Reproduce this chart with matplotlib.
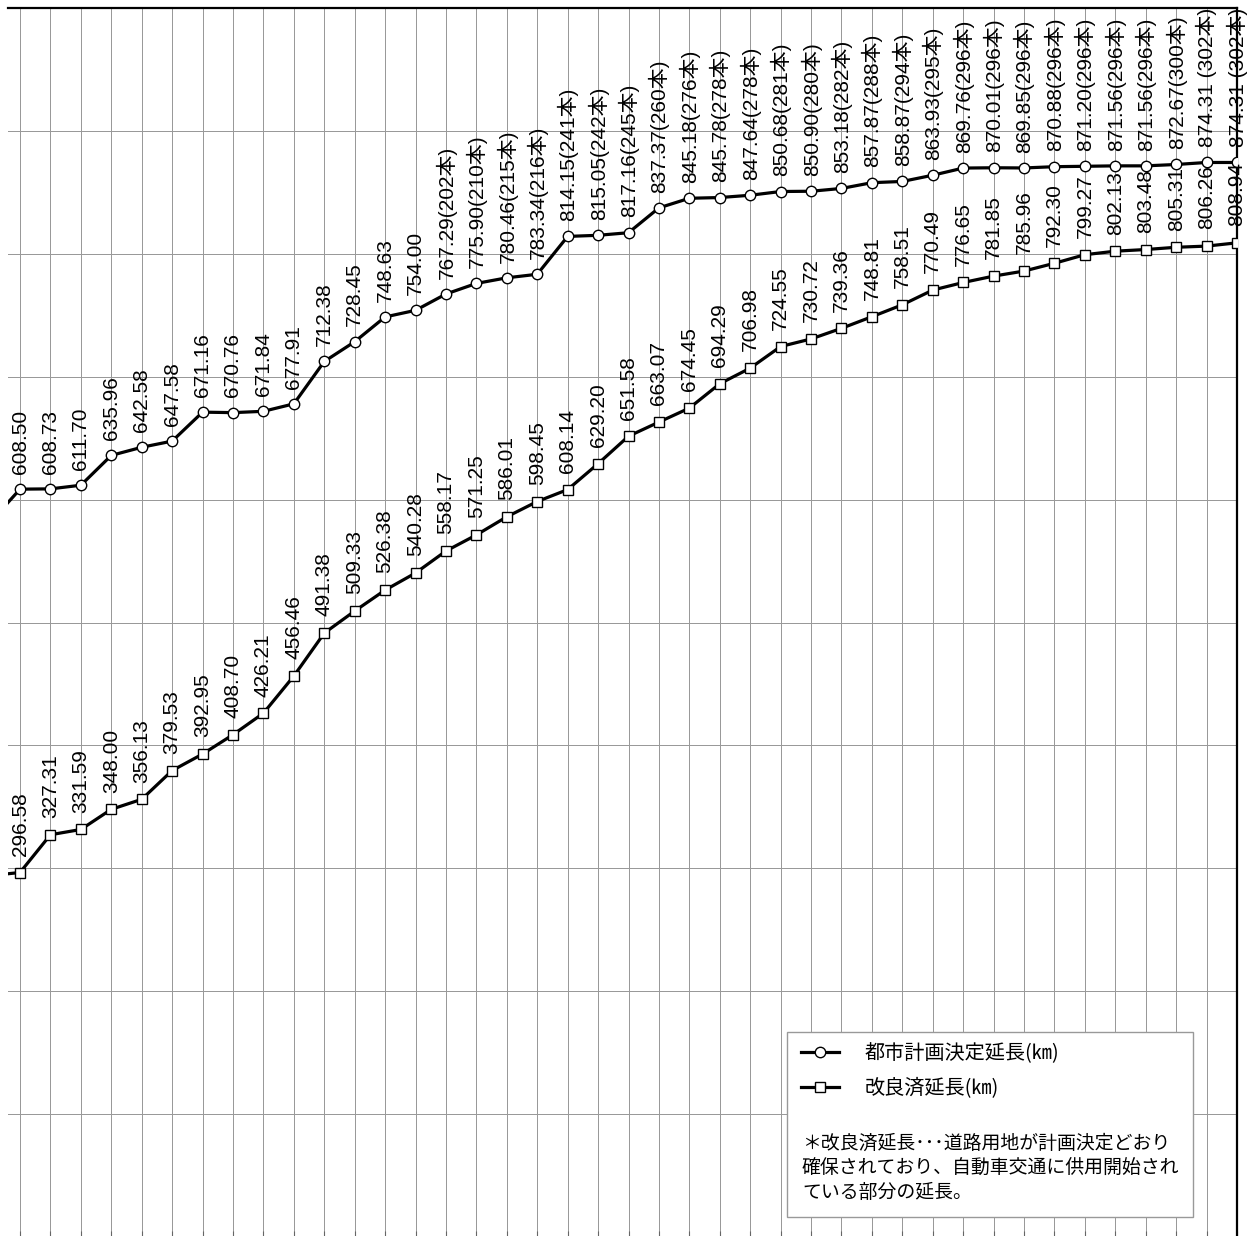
import numpy as np
import matplotlib.pyplot as plt
from matplotlib.patches import Rectangle
from matplotlib.lines import Line2D

plt.rcParams['font.family'] = ['Liberation Sans', 'Noto Sans CJK JP']

# x index of each point; index -1 is the previous point, just outside the left edge
pos = np.arange(-1, 41)

# 都市計画決定延長 (km)
plan_km = [581.0,
           608.50, 608.73, 611.70, 635.96, 642.58, 647.58, 671.16, 670.76,
           671.84, 677.91, 712.38, 728.45, 748.63, 754.00, 767.29, 775.90,
           780.46, 783.34, 814.15, 815.05, 817.16, 837.37, 845.18, 845.78,
           847.64, 850.68, 850.90, 853.18, 857.87, 858.87, 863.93, 869.76,
           870.01, 869.85, 870.88, 871.20, 871.56, 871.56, 872.67, 874.31,
           874.31]
# number of routes (本), known from the 15th point on
plan_count = [None] * 15 + [202, 210, 215, 216, 241, 242, 245, 260, 276, 278,
                            278, 281, 280, 282, 288, 294, 295, 296, 296, 296,
                            296, 296, 296, 296, 300, 302, 302]

# 改良済延長 (km)
improved_km = [294.0,
               296.58, 327.31, 331.59, 348.00, 356.13, 379.53, 392.95, 408.70,
               426.21, 456.46, 491.38, 509.33, 526.38, 540.28, 558.17, 571.25,
               586.01, 598.45, 608.14, 629.20, 651.58, 663.07, 674.45, 694.29,
               706.98, 724.55, 730.72, 739.36, 748.81, 758.51, 770.49, 776.65,
               781.85, 785.96, 792.30, 799.27, 802.13, 803.48, 805.31, 806.26,
               808.94]

legend_labels = ['都市計画決定延長(㎞)', '改良済延長(㎞)']
note_lines = ['＊改良済延長･･･道路用地が計画決定どおり',
              '確保されており、自動車交通に供用開始され',
              'ている部分の延長。']

W, H = 1248, 1236
fig = plt.figure(figsize=(W / 100, H / 100), dpi=100)
ax = fig.add_axes([8 / W, -1 / H, (1237 - 8) / W, 1229 / H])

ax.plot(pos, plan_km, color='black', lw=2.3, marker='o', ms=7.5,
        mfc='white', mec='black', mew=1.0, zorder=3)
ax.plot(pos, improved_km, color='black', lw=2.3, marker='s', ms=7.0,
        mfc='white', mec='black', mew=1.0, zorder=3)

for i in range(1, len(pos)):
    v = plan_km[i]
    c = plan_count[i]
    if c is None:
        lab = f'{v:.2f}'
    elif i >= 40:
        lab = f'{v:.2f} ({c}本)'
    else:
        lab = f'{v:.2f}({c}本)'
    ax.annotate(lab, (pos[i], v), xytext=(0, 11), textcoords='offset points',
                rotation=90, ha='center', va='bottom', fontsize=15,
                annotation_clip=False, zorder=4)
    ax.annotate(f'{improved_km[i]:.2f}', (pos[i], improved_km[i]),
                xytext=(0, 12), textcoords='offset points',
                rotation=90, ha='center', va='bottom', fontsize=15,
                annotation_clip=False, zorder=4)

ax.set_xlim(-0.395, 40)
ax.set_ylim(0, 1000)
ax.set_xticks(np.arange(0, 41))
ax.set_yticks(np.arange(0, 1001, 100))
ax.grid(True, color='#999999', lw=0.72)
ax.set_axisbelow(True)
ax.tick_params(left=False, labelleft=False, labelbottom=False,
               bottom=True, direction='in', length=4, color='#666666')
ax.spines['left'].set_visible(False)
ax.spines['bottom'].set_visible(False)
ax.spines['top'].set_linewidth(1.6)
ax.spines['right'].set_linewidth(1.6)

# legend box
box = Rectangle((787 / W, 1 - 1217 / H), 406 / W, 185 / H,
                transform=fig.transFigure, facecolor='white',
                edgecolor='#999999', lw=1.0, zorder=5, clip_on=False)
ax.add_artist(box)

handles = [Line2D([], [], color='black', lw=2.3, marker='o', ms=7.5,
                  mfc='white', mec='black', mew=1.0),
           Line2D([], [], color='black', lw=2.3, marker='s', ms=7.0,
                  mfc='white', mec='black', mew=1.0)]
leg = ax.legend(handles, legend_labels, loc='upper left',
                bbox_to_anchor=(801 / W, 1 - 1043 / H),
                bbox_transform=fig.transFigure, frameon=False,
                prop={'family': ['Noto Sans CJK JP'], 'size': 14.5},
                handlelength=1.9, handletextpad=1.25, labelspacing=0.72,
                borderpad=0, borderaxespad=0)
leg.set_zorder(6)

for k, line in enumerate(note_lines):
    fig.text(802 / W, 1 - (1143 + 24.5 * k) / H, line, ha='left', va='center',
             fontsize=13.6, family=['Noto Sans CJK JP'], zorder=7)

fig.savefig('out.png', dpi=100)
